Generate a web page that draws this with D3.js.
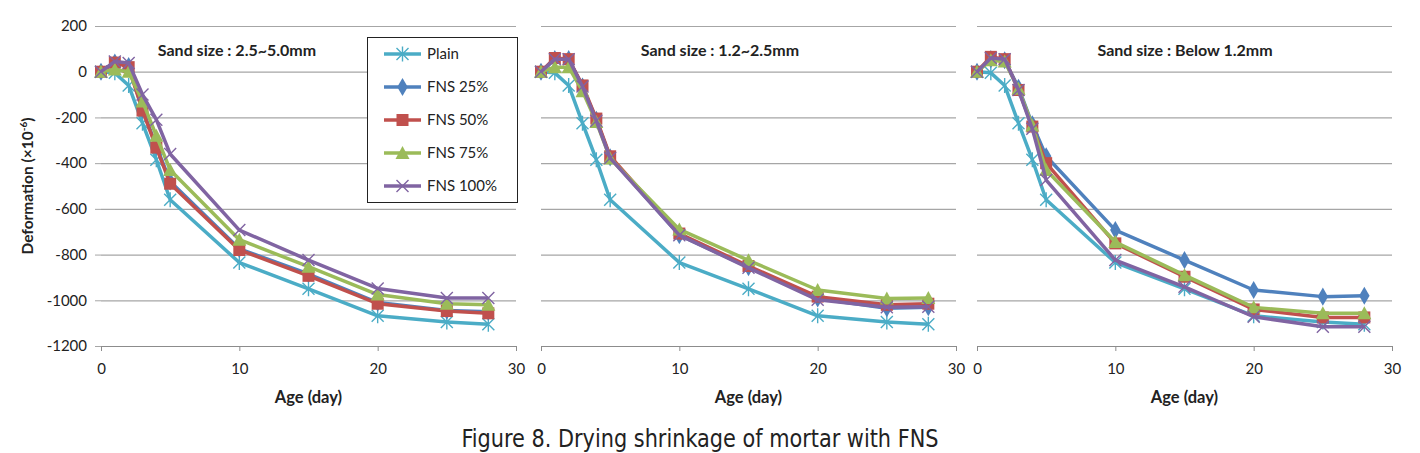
<!DOCTYPE html>
<html>
<head>
<meta charset="utf-8">
<script src="https://cdn.jsdelivr.net/npm/d3@7"></script>
<style>
body { margin: 0; background: #fff; }
svg text { font-family: Lato, "Open Sans", sans-serif; fill: #222; }
</style>
</head>
<body>
<div id="chart"></div>
<script>
// ages (day)
var days = [0, 1, 2, 3, 4, 5, 10, 15, 20, 25, 28];

var seriesNames = ["Plain", "FNS 25%", "FNS 50%", "FNS 75%", "FNS 100%"];
var panelTitles = ["Sand size : 2.5~5.0mm", "Sand size : 1.2~2.5mm", "Sand size : Below 1.2mm"];
var yTicks = [200, 0, -200, -400, -600, -800, -1000, -1200];
var xTicks = [0, 10, 20, 30];

// control mix, same in all three panels
var plain = [0, -5, -60, -225, -385, -560, -835, -950, -1068, -1095, -1105];

// sand 2.5~5.0mm
var coarse25 = [0, 40, 25, -165, -325, -480, -775, -885, -1010, -1045, -1050];
var coarse50 = [0, 40, 20, -170, -332, -490, -780, -893, -1015, -1047, -1057];
var coarse75 = [0, 10, 0, -130, -280, -430, -735, -853, -975, -1015, -1020];
var coarse100 = [0, 45, 38, -100, -210, -360, -693, -824, -948, -990, -990];

// sand 1.2~2.5mm
var medium25 = [0, 55, 55, -65, -210, -375, -715, -855, -992, -1035, -1030];
var medium50 = [0, 60, 55, -60, -205, -370, -708, -850, -984, -1020, -1015];
var medium75 = [0, 20, 20, -85, -220, -380, -690, -825, -955, -992, -990];
var medium100 = [0, 55, 55, -65, -215, -378, -715, -858, -998, -1030, -1028];

// sand below 1.2mm
var fine25 = [0, 55, 50, -70, -230, -370, -693, -824, -955, -984, -980];
var fine50 = [0, 65, 55, -80, -240, -400, -751, -897, -1040, -1075, -1075];
var fine75 = [0, 50, 45, -75, -235, -430, -745, -890, -1031, -1057, -1057];
var fine100 = [0, 60, 55, -80, -250, -474, -824, -941, -1072, -1116, -1116];

var colors = ["#4bacc6", "#4f81bd", "#c0504d", "#9bbb59", "#8064a2"];
var markers = ["star", "diamond", "square", "triangle", "x"];

var panelData = [
	[plain, coarse25, coarse50, coarse75, coarse100],
	[plain, medium25, medium50, medium75, medium100],
	[plain, fine25, fine50, fine75, fine100]
];
var panelLeft = [101, 541, 977];
var titleX = [237, 720, 1185];
var plotW = 415, plotTop = 26, plotBottom = 346;

var svg = d3.select("#chart").append("svg").attr("width", 1420).attr("height", 453);

function plainNumber(d) {
	return String(d);
}

function drawMarker(g, type, color, cx, cy) {
	if (type == "square") {
		g.append("rect").attr("x", cx - 6).attr("y", cy - 6).attr("width", 12)
				.attr("height", 12).attr("fill", color);
	} else if (type == "diamond") {
		g.append("path").attr("d", d3.symbol().type(d3.symbolDiamond).size(95)())
				.attr("transform", "translate(" + cx + "," + cy + ")").attr("fill", color);
	} else if (type == "triangle") {
		g.append("path").attr("d", "M0,-7L7,6L-7,6Z")
				.attr("transform", "translate(" + cx + "," + cy + ")").attr("fill", color);
	} else if (type == "x") {
		g.append("path").attr("d", "M-6,-6L6,6M-6,6L6,-6")
				.attr("transform", "translate(" + cx + "," + cy + ")")
				.attr("stroke", color).attr("stroke-width", 1.4).attr("fill", "none");
	} else {
		g.append("path").attr("d", "M-6,-6L6,6M-6,6L6,-6M0,-7.5L0,7.5")
				.attr("transform", "translate(" + cx + "," + cy + ")")
				.attr("stroke", color).attr("stroke-width", 1.4).attr("fill", "none");
	}
}

function drawPanel(p) {
	var left = panelLeft[p];
	var x = d3.scaleLinear().domain([0, 30]).range([left, left + plotW]);
	var y = d3.scaleLinear().domain([-1200, 200]).range([plotBottom, plotTop]);
	var g = svg.append("g");

	// gridlines
	g.append("g").attr("transform", "translate(" + left + ",0)")
			.call(d3.axisLeft(y).tickValues(yTicks).tickSize(-plotW).tickFormat(""))
			.call(function(s) {
				s.select(".domain").remove();
				s.selectAll("line").attr("stroke", "#a6a6a6").attr("stroke-width", 1.2);
			});

	if (p == 0) {
		g.append("g").attr("transform", "translate(" + left + ",0)")
				.call(d3.axisLeft(y).tickValues(yTicks).tickSize(6).tickPadding(8).tickFormat(plainNumber))
				.call(function(s) {
					s.select(".domain").remove();
					s.selectAll("line").attr("stroke", "#a6a6a6");
					s.selectAll("text").style("font-size", "15px").attr("fill", "#222");
				});
	}

	g.append("g").attr("transform", "translate(0," + plotBottom + ")")
			.call(d3.axisBottom(x).tickValues(xTicks).tickSizeInner(5).tickSizeOuter(0)
					.tickPadding(12).tickFormat(plainNumber))
			.call(function(s) {
				s.select(".domain").attr("stroke", "#8c8c8c").attr("stroke-width", 1.2);
				s.selectAll("line").attr("stroke", "#8c8c8c");
				s.selectAll("text").style("font-size", "15px").attr("fill", "#222");
			});

	g.append("text").attr("x", left + plotW / 2).attr("y", 403).attr("text-anchor", "middle")
			.style("font-size", "16.5px").style("font-weight", "bold").text("Age (day)");

	g.append("text").attr("x", titleX[p]).attr("y", 56).attr("text-anchor", "middle")
			.style("font-size", "16px").style("font-weight", "bold").text(panelTitles[p]);

	var line = d3.line().x(function(d) {
		return x(d[0]);
	}).y(function(d) {
		return y(d[1]);
	});

	var i, j;
	for (i = 0; i < panelData[p].length; i++) {
		var pts = days.map(function(d, k) {
			return [d, panelData[p][i][k]];
		});
		g.append("path").attr("d", line(pts)).attr("stroke", colors[i])
				.attr("stroke-width", 3.5).attr("fill", "none").attr("stroke-linejoin", "round");
		for (j = 0; j < pts.length; j++) {
			drawMarker(g, markers[i], colors[i], x(pts[j][0]), y(pts[j][1]));
		}
	}
}

var p;
for (p = 0; p < 3; p++) {
	drawPanel(p);
}

// y axis title
svg.append("text").attr("transform", "translate(33,186) rotate(-90)")
		.attr("text-anchor", "middle").style("font-size", "15.5px").style("font-weight", "bold")
		.html("Deformation (×10<tspan dy='-6' style='font-size:10px'>-6</tspan><tspan dy='6'>)</tspan>");

// legend
var legend = svg.append("g");
legend.append("rect").attr("x", 367.5).attr("y", 37.5).attr("width", 150).attr("height", 165)
		.attr("fill", "#fff").attr("stroke", "#222").attr("stroke-width", 1);
var rowY = [54, 87, 120, 153, 186];
var r;
for (r = 0; r < seriesNames.length; r++) {
	legend.append("line").attr("x1", 384).attr("x2", 421).attr("y1", rowY[r]).attr("y2", rowY[r])
			.attr("stroke", colors[r]).attr("stroke-width", 3.5);
	drawMarker(legend, markers[r], colors[r], 402.5, rowY[r]);
	legend.append("text").attr("x", 427).attr("y", rowY[r] + 5).style("font-size", "15px")
			.text(seriesNames[r]);
}

// caption
svg.append("text").attr("x", 700).attr("y", 447).attr("text-anchor", "middle")
		.attr("textLength", 477).attr("lengthAdjust", "spacingAndGlyphs")
		.style("font-family", "'DejaVu Sans Condensed', 'DejaVu Sans', sans-serif")
		.style("font-stretch", "condensed")
		.style("font-size", "24px").attr("fill", "#111")
		.text("Figure 8. Drying shrinkage of mortar with FNS");
</script>
</body>
</html>
